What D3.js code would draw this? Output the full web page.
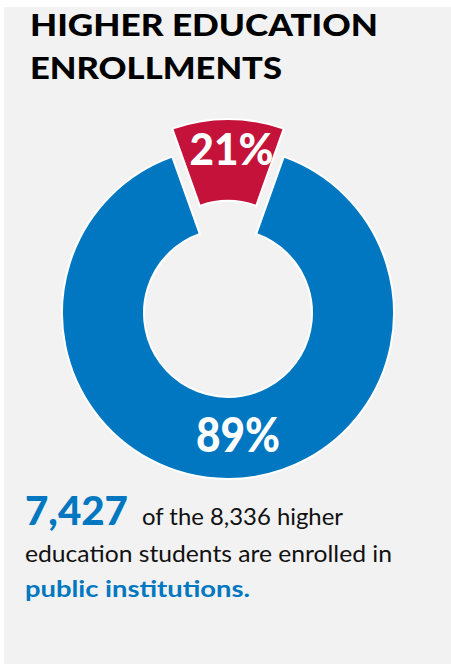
<!DOCTYPE html>
<html>
<head>
<meta charset="utf-8">
<script src="https://cdn.jsdelivr.net/npm/d3@7"></script>
<style>
  html, body { margin: 0; padding: 0; background: #ffffff; }
  svg { display: block; }
</style>
</head>
<body>
<script>
// Enrollment counts
const totalStudents = 8336;
const publicStudents = 7427;
const segments = ["Public", "Other"];
const segmentCounts = [publicStudents, totalStudents - publicStudents];
const segmentLabels = ["89%", "21%"];
const titleLines = ["HIGHER EDUCATION", "ENROLLMENTS"];

const W = 451, H = 664;
const blue = "#0077c0", red = "#c4123a", bg = "#f2f2f2";
const font = "Lato, 'Open Sans', sans-serif";

const svg = d3.select("body").append("svg")
  .attr("width", W).attr("height", H);

svg.append("rect").attr("x", 4).attr("y", 7)
  .attr("width", W - 4).attr("height", H - 7).attr("fill", bg);

// Title
const titleWidths = [348, 252];
svg.append("g").selectAll("text").data(titleLines).join("text")
  .attr("x", 30).attr("y", (d, i) => 36 + i * 43)
  .attr("font-family", font).attr("font-weight", 900)
  .attr("font-size", 30).attr("fill", "#000")
  .attr("textLength", (d, i) => titleWidths[i])
  .attr("lengthAdjust", "spacingAndGlyphs")
  .text(d => d);

// Donut
const cx = 228, cy = 313, outerR = 166, innerR = 84, explode = 28;
const data = segments.map((s, i) => ({ name: s, count: segmentCounts[i], label: segmentLabels[i] }));
const otherAngle = 2 * Math.PI * segmentCounts[1] / d3.sum(segmentCounts);
const pie = d3.pie().sort(null).value(d => d.count)
  .startAngle(otherAngle / 2).endAngle(otherAngle / 2 + 2 * Math.PI);
const arcs = pie(data);
const arc = d3.arc().innerRadius(innerR).outerRadius(outerR);
const colors = d3.scaleOrdinal().domain(segments).range([blue, red]);

const g = svg.append("g").attr("transform", `translate(${cx},${cy})`);
const slice = g.selectAll("g.slice").data(arcs).join("g")
  .attr("class", "slice")
  .attr("transform", (d, i) => {
    if (i === 0) return null;
    const mid = (d.startAngle + d.endAngle) / 2;
    return `translate(${Math.sin(mid) * explode},${-Math.cos(mid) * explode})`;
  });

slice.append("path").attr("d", arc)
  .attr("fill", d => colors(d.data.name))
  .attr("stroke", "#ffffff").attr("stroke-width", 2);

slice.append("text")
  .attr("transform", (d, i) => {
    const mid = (d.startAngle + d.endAngle) / 2;
    const r = i === 0 ? 125 : 128;
    const x = Math.sin(mid) * r + (i === 0 ? 10 : 3.5);
    const y = -Math.cos(mid) * r + (i === 0 ? 14 : 8);
    return `translate(${x},${y})`;
  })
  .attr("text-anchor", "middle")
  .attr("font-family", font).attr("font-weight", 900)
  .attr("font-size", d => d.index === 0 ? 47 : 44)
  .attr("textLength", 84)
  .attr("lengthAdjust", "spacingAndGlyphs")
  .attr("fill", "#ffffff")
  .text(d => d.data.label);

// Caption
const fmt = d3.format(",");
const cap = svg.append("g").attr("font-family", font).attr("fill", "#111");
cap.append("text").attr("x", 25).attr("y", 525)
  .attr("font-size", 39).attr("font-weight", 900).attr("fill", blue)
  .attr("textLength", 103).attr("lengthAdjust", "spacingAndGlyphs")
  .text(fmt(publicStudents));
cap.append("text").attr("x", 142).attr("y", 525).attr("font-size", 23)
  .attr("textLength", 201).attr("lengthAdjust", "spacingAndGlyphs")
  .text(`of the ${fmt(totalStudents)} higher`);
cap.append("text").attr("x", 25).attr("y", 562).attr("font-size", 23)
  .attr("textLength", 367).attr("lengthAdjust", "spacingAndGlyphs")
  .text("education students are enrolled in");
cap.append("text").attr("x", 25).attr("y", 597).attr("font-size", 23)
  .attr("font-weight", 700).attr("fill", blue)
  .attr("textLength", 225).attr("lengthAdjust", "spacingAndGlyphs")
  .text("public institutions.");
</script>
</body>
</html>
